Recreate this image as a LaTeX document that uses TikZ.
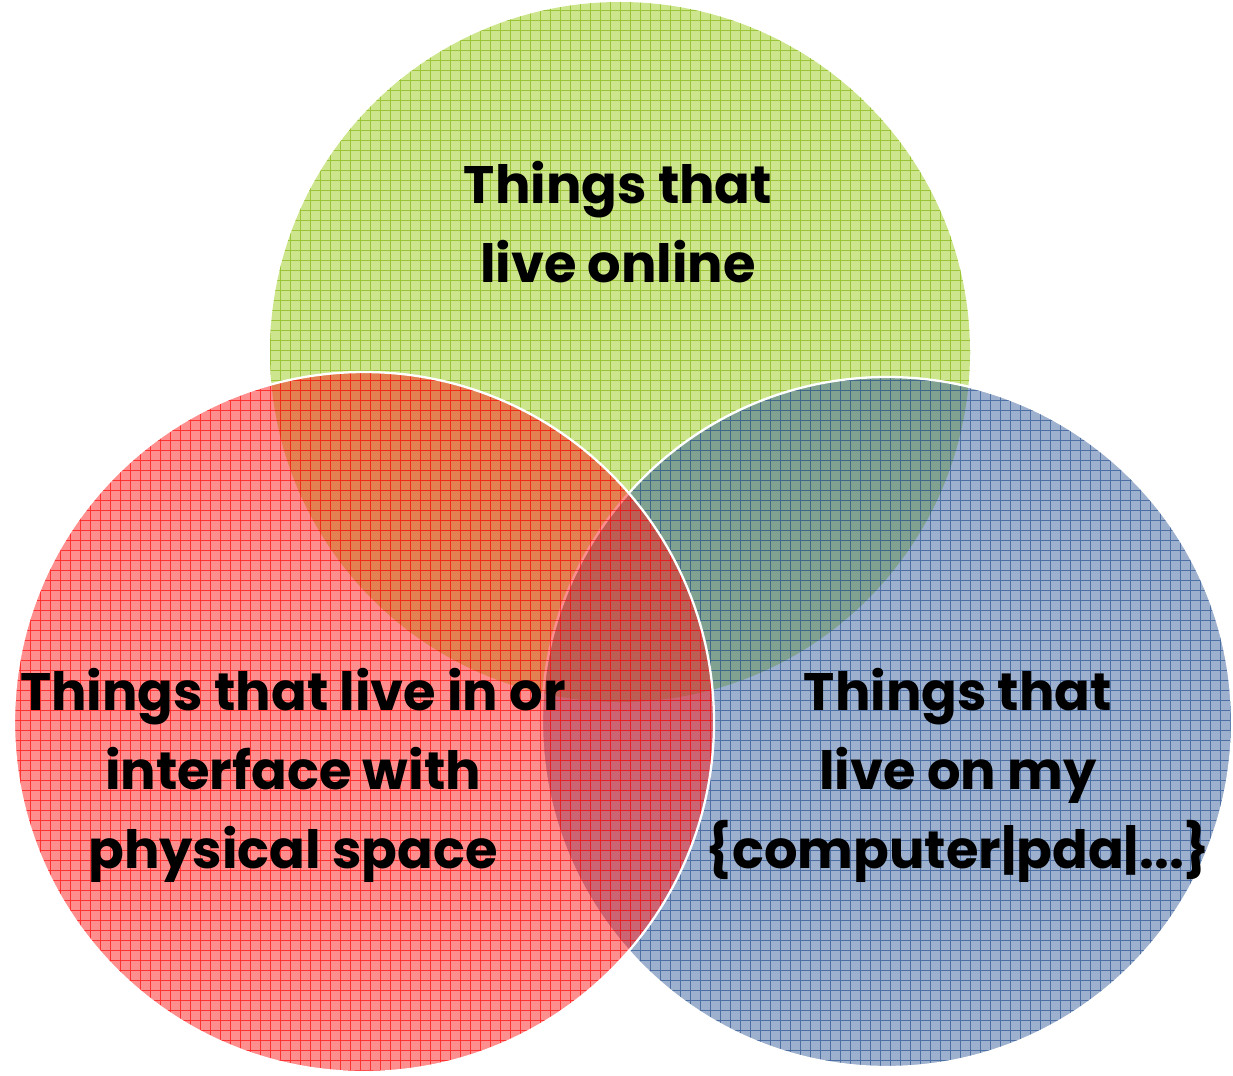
\documentclass[tikz,border=0pt]{standalone}
\usepackage{fontspec}
\setmainfont{Poppins}
\definecolor{onlinegreen}{RGB}{155,205,30}
\definecolor{physred}{RGB}{255,20,20}
\definecolor{compblue}{RGB}{50,90,150}
\begin{document}
\begin{tikzpicture}[
    venn/.style={draw=white, line width=1.3pt},
    gridlines/.style={line width=0.4pt, draw opacity=0.75},
    words/.style={font=\fontsize{30}{45}\selectfont\bfseries, align=center, inner sep=0pt}]
    \useasboundingbox (0,0) rectangle (24.66,-21.5);

    \coordinate (online) at (12.4,-7.04);
    \coordinate (physical) at (7.28,-14.44);
    \coordinate (computer) at (17.74,-14.44);

    % things online
    \fill[onlinegreen, fill opacity=0.5] (online) circle (7);
    \begin{scope}
      \clip (online) circle (7);
      \draw[gridlines, onlinegreen!90!black] (5,-14.2) grid[step=0.2] (19.6,0);
    \end{scope}

    % things on my computer
    \fill[compblue, fill opacity=0.48] (computer) circle (6.9);
    \begin{scope}
      \clip (computer) circle (6.9);
      \draw[gridlines, compblue] (10.6,-21.4) grid[step=0.2] (24.8,-7.4);
    \end{scope}
    \draw[venn] (computer) circle (6.9);

    % things in physical space
    \fill[physred, fill opacity=0.48] (physical) circle (7);
    \begin{scope}
      \clip (physical) circle (7);
      \draw[gridlines, physred] (0,-21.6) grid[step=0.2] (14.4,-7.4);
    \end{scope}
    \draw[venn] (physical) circle (7);

    \node[words] (onlinetext) at (12.36,-4.44) {Things that\\live online};
    \node[words] (physicaltext) at (5.86,-15.5) {Things that live in or\\interface with\\physical space};
    \node[words] (computertext) at (19.16,-15.5) {Things that\\live on my\\\{computer|pda|...\}};
\end{tikzpicture}
\end{document}
